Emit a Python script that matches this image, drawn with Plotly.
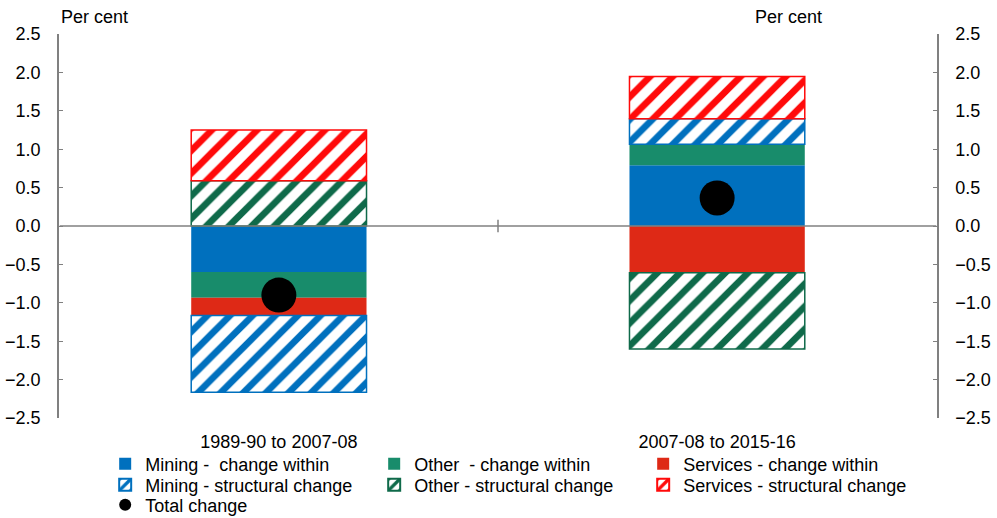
import plotly.graph_objects as go

categories = ["1989-90 to 2007-08", "2007-08 to 2015-16"]

mining_within = [-0.60, 0.79]
other_within = [-0.335, 0.275]
services_within = [-0.23, -0.61]
mining_structural = [-1.0, 0.33]
other_structural = [0.59, -0.99]
services_structural = [0.66, 0.55]
total_change = [-0.90, 0.365]

y_ticks = [-2.5, -2.0, -1.5, -1.0, -0.5, 0.0, 0.5, 1.0, 1.5, 2.0, 2.5]

FONT = "Liberation Sans, Arial, sans-serif"
BLUE = "#0070BE"
GREEN = "#188C6B"
RED = "#DE2916"
GREEN_H = "#0F6A4A"
RED_H = "#FF0A0A"

fig = go.Figure()

def solid(name, vals, color):
    fig.add_trace(go.Bar(x=categories, y=vals, name=name, legend="legend",
                         marker=dict(color=color, line=dict(width=0))))

def hatched(name, vals, color):
    fig.add_trace(go.Bar(x=categories, y=vals, name=name, legend="legend2",
                         marker=dict(color="white",
                                     line=dict(color=color, width=1.5),
                                     pattern=dict(shape="/", fgcolor=color, bgcolor="white",
                                                  fgopacity=1, size=16, solidity=0.42,
                                                  fillmode="replace"))))

solid("Mining -\u00a0\u00a0change within", mining_within, BLUE)
solid("Other\u00a0\u00a0- change within", other_within, GREEN)
solid("Services - change within", services_within, RED)
hatched("Mining - structural change", mining_structural, BLUE)
hatched("Other - structural change", other_structural, GREEN_H)
hatched("Services - structural change", services_structural, RED_H)

fig.add_trace(go.Scatter(x=categories, y=total_change, mode="markers", name="Total change",
                         legend="legend3", marker=dict(color="black", size=35)))

fig.add_trace(go.Scatter(x=categories, y=total_change, yaxis="y2", mode="markers",
                         marker=dict(opacity=0), showlegend=False, hoverinfo="skip"))

yax = dict(range=[-2.5, 2.5], tickvals=y_ticks, tickformat=".1f", ticks="inside", ticklen=4,
           tickcolor="#808080", showline=True, linecolor="#808080", linewidth=1.5,
           showgrid=False, zeroline=False, tickfont=dict(family=FONT, size=18, color="black"),
           ticklabelstandoff=13)

leg = dict(orientation="h", x=0.0526, xanchor="left", yanchor="middle",
           entrywidth=224, entrywidthmode="pixels", itemsizing="constant",
           font=dict(family=FONT, size=18, color="black"), itemwidth=30,
           bgcolor="rgba(0,0,0,0)", borderwidth=0)

fig.update_layout(
    width=997, height=518,
    margin=dict(l=59, r=60, t=34, b=100, autoexpand=False),
    plot_bgcolor="white", paper_bgcolor="white",
    barmode="relative", bargap=0.6,
    font=dict(family=FONT, size=18, color="black"),
    xaxis=dict(showline=False, ticks="", showgrid=False, zeroline=False,
               tickfont=dict(family=FONT, size=18, color="black"), ticklabelstandoff=11),
    yaxis=dict(**yax, side="left"),
    yaxis2=dict(**yax, side="right", overlaying="y", matches="y"),
    showlegend=True,
    legend=dict(**leg, y=-0.1198),
    legend2=dict(**leg, y=-0.1745),
    legend3=dict(**leg, y=-0.2266),
    shapes=[
        dict(type="line", xref="x", yref="y", x0=-0.5, x1=1.5, y0=0, y1=0,
             line=dict(color="#808080", width=1.5), layer="above"),
        dict(type="line", xref="x", yref="y", x0=0.5, x1=0.5, y0=-0.08, y1=0.08,
             line=dict(color="#808080", width=1.5)),
    ],
    annotations=[
        dict(text="Per cent", xref="paper", yref="paper", x=0.0, y=1.0, xanchor="left",
             yanchor="bottom", yshift=5, showarrow=False, font=dict(family=FONT, size=18)),
        dict(text="Per cent", xref="paper", yref="paper", x=0.871, y=1.0, xanchor="right",
             yanchor="bottom", yshift=5, showarrow=False, font=dict(family=FONT, size=18)),
    ],
)

fig.write_html("out.html", config={"displayModeBar": False},
               post_script="document.body.style.margin='0';")
